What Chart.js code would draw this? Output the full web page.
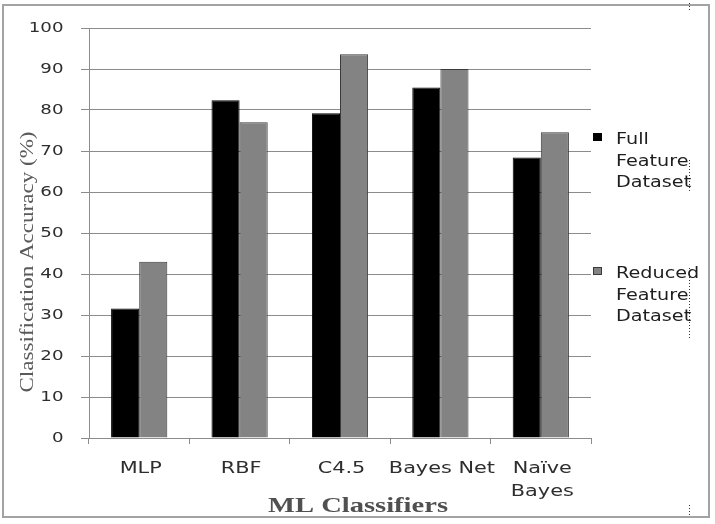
<!DOCTYPE html>
<html>
<head>
<meta charset="utf-8">
<script src="https://cdn.jsdelivr.net/npm/chart.js@4.4.1/dist/chart.umd.min.js"></script>
<style>
  html, body { margin: 0; padding: 0; background: #fff; }
  #wrap { width: 715px; height: 524px; }
</style>
</head>
<body>
<div id="wrap"><canvas id="chartAcc" width="715" height="524"></canvas></div>
<script>
const categories = ["MLP", "RBF", "C4.5", "Bayes Net", ["Naïve", "Bayes"]];
const fullFeature = [31.6, 82.4, 79.2, 85.5, 68.4];
const reducedFeature = [43.0, 77.0, 93.6, 90.0, 74.6];
const seriesNames = ["Full Feature Dataset", "Reduced Feature Dataset"];
const yMin = 0;
const yMax = 100;
const yStep = 10;
const xTitle = "ML Classifiers";
const yTitle = "Classification Accuracy (%)";

const GRID = "#8c8c8c";
const STRETCH = 1.3; // the source picture is drawn wide

// draw text squeezed / stretched to a given width
function fitText(ctx, text, x, y, width) {
  const w = ctx.measureText(text).width;
  ctx.save();
  ctx.translate(x, y);
  ctx.scale(width / w, 1);
  ctx.fillText(text, 0, 0);
  ctx.restore();
}

function wideText(ctx, text, x, y, k) {
  fitText(ctx, text, x, y, ctx.measureText(text).width * k);
}

const wideTicks = {
  id: "wideTicks",
  afterDraw(chart) {
    const ctx = chart.ctx;
    const xs = chart.scales.x;
    const ys = chart.scales.y;
    ctx.save();
    ctx.fillStyle = "#2e2e2e";

    ctx.font = "14px 'DejaVu Sans'";
    ctx.textAlign = "right";
    ctx.textBaseline = "middle";
    ys.ticks.forEach((t, i) => {
      wideText(ctx, String(t.value), 63.5, ys.getPixelForTick(i), STRETCH);
    });

    ctx.font = "16px 'DejaVu Sans'";
    ctx.textAlign = "center";
    ctx.textBaseline = "alphabetic";
    xs.ticks.forEach((t, i) => {
      const lab = chart.data.labels[i];
      const lines = Array.isArray(lab) ? lab : [lab];
      lines.forEach((ln, k) => {
        wideText(ctx, ln, xs.getPixelForTick(i) + 1.5, 473 + k * 22.5, STRETCH);
      });
    });
    ctx.restore();
  },
};

const frame = {
  id: "frame",
  afterDraw(chart) {
    const ctx = chart.ctx;
    ctx.save();
    ctx.strokeStyle = "#a3a3a3";
    ctx.lineWidth = 2;
    ctx.strokeRect(3, 5, 706, 512);

    // little dotted text-box marks on the right
    ctx.strokeStyle = "#333";
    ctx.lineWidth = 1;
    ctx.setLineDash([1, 2]);
    [[3, 11], [160, 192], [268, 338], [505, 516]].forEach(([a, b]) => {
      ctx.beginPath();
      ctx.moveTo(689.5, a);
      ctx.lineTo(689.5, b);
      ctx.stroke();
    });
    ctx.setLineDash([]);

    // axis titles
    ctx.fillStyle = "#505050";
    ctx.font = "bold 21px 'Liberation Serif'";
    ctx.textAlign = "center";
    ctx.textBaseline = "alphabetic";
    fitText(ctx, xTitle, 358, 512, 180);

    ctx.save();
    ctx.translate(33, 262);
    ctx.rotate(-Math.PI / 2);
    ctx.fillStyle = "#5a5a5a";
    ctx.font = "19px 'Liberation Serif'";
    fitText(ctx, yTitle, 0, 0, 261);
    ctx.restore();

    // legend
    ctx.textAlign = "left";
    ctx.font = "15px 'DejaVu Sans'";
    const tops = [144, 278];
    chart.data.datasets.forEach((ds, i) => {
      const base = tops[i];
      ctx.fillStyle = ds.backgroundColor;
      ctx.fillRect(593, base - 11, 9, 8);
      ctx.strokeStyle = ds.borderColor;
      ctx.strokeRect(593.5, base - 10.5, 8, 7);
      ctx.fillStyle = "#1e1e1e";
      ds.label.split(" ").forEach((word, k) => {
        wideText(ctx, word, 616, base + k * 21.5, 1.28);
      });
    });
    ctx.restore();
  },
};

new Chart(document.getElementById("chartAcc"), {
  type: "bar",
  data: {
    labels: categories,
    datasets: [
      {
        label: seriesNames[0],
        data: fullFeature,
        backgroundColor: "#000000",
        borderColor: "#000000",
        borderWidth: 1,
      },
      {
        label: seriesNames[1],
        data: reducedFeature,
        backgroundColor: "#838383",
        borderColor: "#3a3a3a",
        borderWidth: 1,
      },
    ],
  },
  options: {
    responsive: false,
    devicePixelRatio: 1,
    animation: false,
    layout: { padding: { top: 28, right: 124, left: 0, bottom: 0 } },
    datasets: { bar: { categoryPercentage: 0.56, barPercentage: 1.0 } },
    plugins: {
      legend: { display: false },
      tooltip: { enabled: false },
    },
    scales: {
      x: {
        afterFit: (s) => { s.height = 86; },
        grid: {
          drawOnChartArea: false,
          drawTicks: true,
          tickLength: 6,
          color: GRID,
          offset: true,
        },
        border: { color: GRID, width: 1 },
        ticks: { display: false, autoSkip: false, maxRotation: 0 },
      },
      y: {
        min: yMin,
        max: yMax,
        afterFit: (s) => { s.width = 89; },
        grid: { color: GRID, tickLength: 8 },
        border: { color: GRID, width: 1 },
        ticks: { display: false, stepSize: yStep },
      },
    },
  },
  plugins: [wideTicks, frame],
});
</script>
</body>
</html>
